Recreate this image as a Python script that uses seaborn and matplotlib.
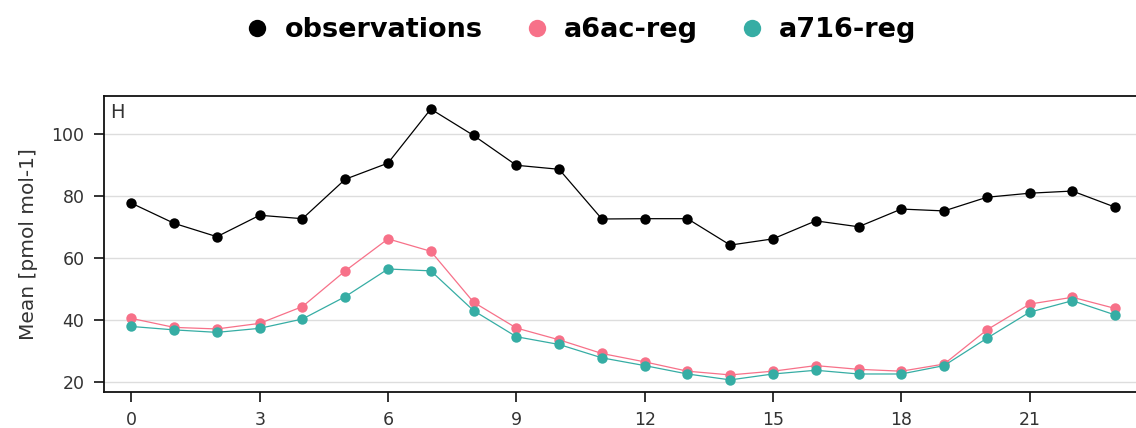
import numpy as np
import pandas as pd
import matplotlib
matplotlib.use("Agg")
import matplotlib.pyplot as plt
from matplotlib.lines import Line2D
import seaborn as sns

hours = list(range(24))
observations = [77.7, 71.2, 66.9, 73.8, 72.7, 85.4, 90.6, 108.0, 99.5, 89.9, 88.6, 72.6,
                72.7, 72.7, 64.2, 66.2, 72.0, 70.1, 75.8, 75.2, 79.6, 80.9, 81.6, 76.4]
a6ac_reg = [40.6, 37.7, 37.2, 39.0, 44.4, 55.9, 66.2, 62.2, 45.8, 37.5, 33.7, 29.3,
            26.6, 23.6, 22.4, 23.6, 25.4, 24.2, 23.6, 25.9, 36.9, 45.2, 47.4, 43.8]
a716_reg = [38.0, 36.9, 36.1, 37.4, 40.4, 47.6, 56.5, 55.9, 43.1, 34.7, 32.2, 27.9,
            25.4, 22.7, 20.8, 22.7, 23.9, 22.7, 22.7, 25.4, 34.2, 42.6, 46.3, 41.7]
series_names = ["observations", "a6ac-reg", "a716-reg"]
colors = ["#000000", "#f77189", "#36ada4"]
xticks = [0, 3, 6, 9, 12, 15, 18, 21]
yticks = [20, 40, 60, 80, 100]

df = pd.DataFrame({
    "hour": hours * 3,
    "value": observations + a6ac_reg + a716_reg,
    "series": [series_names[0]] * 24 + [series_names[1]] * 24 + [series_names[2]] * 24,
})

sns.set_style("ticks")
plt.rcParams["font.family"] = ["DejaVu Sans"]

fig = plt.figure(figsize=(11.36, 4.28), dpi=100)
ax = fig.add_axes([104 / 1136, 1 - 392 / 428, (1140 - 104) / 1136, (392 - 96) / 428])

palette = dict(zip(series_names, colors))
sns.lineplot(data=df, x="hour", y="value", hue="series", palette=palette,
             marker="o", markersize=7.5, markeredgewidth=0, linewidth=0.9,
             legend=False, ax=ax, zorder=3)

ax.set_xlim(-0.64, 23.58)
ax.set_ylim(16.9, 112.2)
ax.set_xticks(xticks)
ax.set_yticks(yticks)
ax.yaxis.grid(True, color="#dddddd", linewidth=1.0, zorder=0)
ax.set_axisbelow(True)
for s in ax.spines.values():
    s.set_visible(True)
    s.set_linewidth(1.3)
    s.set_color("#111111")
ax.tick_params(axis="both", labelsize=12.5, labelcolor="#333333", length=7, width=1.2,
               color="#111111", pad=7)
ax.set_xlabel("")
ax.set_ylabel("Mean [pmol mol-1]", fontsize=14.5, color="#333333", labelpad=10)
ax.text(0.006, 0.975, "H", transform=ax.transAxes, ha="left", va="top",
        fontsize=14, color="#333333")

handles = [Line2D([0], [0], marker="o", linestyle="none", markersize=12.5,
                  markerfacecolor=c, markeredgewidth=0) for c in colors]
leg = fig.legend(handles, series_names, loc="center", bbox_to_anchor=(580 / 1136, 1 - 30 / 428),
                 ncol=3, frameon=False, prop={"weight": "bold", "size": 19.5},
                 handletextpad=0.5, columnspacing=1.5, handlelength=1.0)
for t in leg.get_texts():
    t.set_color("#000000")

fig.savefig("out.png", dpi=100)
